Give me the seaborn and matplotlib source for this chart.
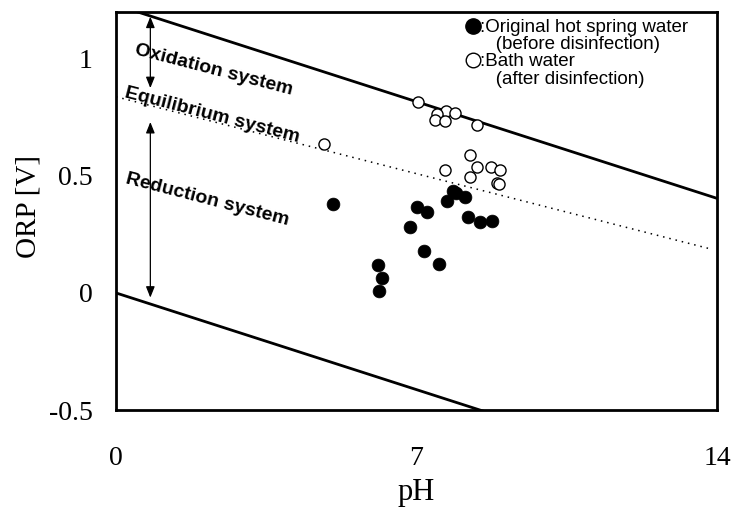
import numpy as np
import pandas as pd
import matplotlib
matplotlib.use("Agg")
import matplotlib.pyplot as plt
from matplotlib.lines import Line2D
import seaborn as sns

# ---- data ----
ph_before = [5.05, 7.02, 7.25, 6.84, 7.72, 7.86, 7.92, 8.14, 8.21, 8.48, 8.77, 7.18, 7.52, 6.11, 6.20, 6.12]
orp_before = [0.379, 0.366, 0.345, 0.282, 0.392, 0.437, 0.426, 0.409, 0.325, 0.303, 0.308, 0.178, 0.124, 0.118, 0.064, 0.010]

ph_after = [7.03, 7.69, 7.47, 7.89, 7.44, 7.66, 8.42, 4.84, 8.25, 7.67, 8.40, 8.73, 8.94, 8.25, 8.88, 8.93]
orp_after = [0.815, 0.779, 0.765, 0.770, 0.739, 0.734, 0.717, 0.637, 0.590, 0.523, 0.540, 0.536, 0.523, 0.497, 0.471, 0.465]

upper_line_ph = [0, 14]
upper_line_orp = [1.23, 0.404]
lower_line_ph = [0, 14]
lower_line_orp = [0.0, -0.826]
mid_line_ph = [0, 13.85]
mid_line_orp = [0.838, 0.188]

legend_labels = [":Original hot spring water", "   (before disinfection)",
                 ":Bath water", "   (after disinfection)"]
region_labels = ["Oxidation system", "Equilibrium system", "Reduction system"]
x_ticklabels = ["0", "7", "14"]
y_ticklabels = ["-0.5", "0", "0.5", "1"]

df = pd.DataFrame({
    "pH": ph_before + ph_after,
    "ORP": orp_before + orp_after,
    "group": ["before"] * len(ph_before) + ["after"] * len(ph_after),
})

sns.set_theme(style="white")
plt.rcParams["font.family"] = ["Liberation Serif", "DejaVu Serif"]
plt.rcParams["text.color"] = "black"
plt.rcParams["axes.labelcolor"] = "black"

fig = plt.figure(figsize=(7.35, 5.08), dpi=100)
ax = fig.add_axes([116 / 735, 1 - 410 / 508, (717 - 116) / 735, (410 - 12) / 508])

# boundary lines
ax.plot(upper_line_ph, upper_line_orp, color="black", lw=2.0)
ax.plot(lower_line_ph, lower_line_orp, color="black", lw=2.0)
ax.plot(mid_line_ph, mid_line_orp, color="black", lw=1.1, linestyle=(0, (1, 3.2)))

# points
sns.scatterplot(data=df[df.group == "before"], x="pH", y="ORP", ax=ax,
                color="black", s=85, edgecolor="black", linewidth=0.5, legend=False, zorder=5)
sns.scatterplot(data=df[df.group == "after"], x="pH", y="ORP", ax=ax,
                facecolor="white", s=64, edgecolor="black", linewidth=1.0, legend=False, zorder=5)

# arrows
ap = dict(arrowstyle="<|-|>,head_length=0.55,head_width=0.22", color="black", lw=0.9,
          shrinkA=0, shrinkB=0)
ax.annotate("", xy=(0.8, 1.18), xytext=(0.8, 0.875), arrowprops=ap)
ax.annotate("", xy=(0.8, 0.73), xytext=(0.8, -0.02), arrowprops=ap)

# region labels
txt_font = dict(family=["Liberation Sans Narrow", "Liberation Sans"], weight="bold",
                fontsize=14, color="black")
ax.text(2.28, 0.953, region_labels[0], rotation=-14.5, ha="center", va="center",
        rotation_mode="anchor", **txt_font)
ax.text(2.25, 0.758, region_labels[1], rotation=-14.5, ha="center", va="center",
        rotation_mode="anchor", **txt_font)
ax.text(2.14, 0.397, region_labels[2], rotation=-14.5, ha="center", va="center",
        rotation_mode="anchor", **txt_font)

# legend
blank = Line2D([], [], linestyle="none", marker=None)
h1 = Line2D([], [], linestyle="none", marker="o", markersize=11,
            markerfacecolor="black", markeredgecolor="black")
h2 = Line2D([], [], linestyle="none", marker="o", markersize=10.5,
            markerfacecolor="white", markeredgecolor="black", markeredgewidth=1.0)
leg = ax.legend([h1, blank, h2, blank], legend_labels, loc="upper left",
                bbox_to_anchor=((465.5 - 116) / 601, (410 - 19) / 398),
                frameon=False, borderpad=0, borderaxespad=0, handlelength=0.8,
                handletextpad=0.0, labelspacing=0.0,
                prop=dict(family=["Liberation Sans", "DejaVu Sans"], size=13.5))
for t in leg.get_texts():
    t.set_color("black")

# axes
ax.set_xlim(0, 14)
ax.set_ylim(-0.5, 1.2)
ax.set_xticks(np.arange(0, 15, 1))
ax.set_xticklabels([x_ticklabels[0]] + [""] * 6 + [x_ticklabels[1]] + [""] * 6 + [x_ticklabels[2]])
yt = np.round(np.arange(-0.5, 1.21, 0.1), 2)
ax.set_yticks(yt)
ax.set_yticklabels([{-0.5: y_ticklabels[0], 0.0: y_ticklabels[1], 0.5: y_ticklabels[2],
                     1.0: y_ticklabels[3]}.get(float(v), "") for v in yt])
ax.tick_params(axis="x", direction="in", length=8, width=1.5, pad=26, labelsize=20, colors="black")
ax.tick_params(axis="y", direction="in", length=8, width=1.5, pad=17, labelsize=20, colors="black")
for sp in ax.spines.values():
    sp.set_visible(True)
    sp.set_color("black")
    sp.set_linewidth(2.0)

ax.set_xlabel("pH", fontsize=22, color="black")
ax.set_ylabel("ORP [V]", fontsize=21, color="black")
ax.xaxis.set_label_coords(0.5, (410 - 478) / 398)
ax.yaxis.set_label_coords((42 - 116) / 601, (410 - 207) / 398)
ax.grid(False)

fig.savefig("out.png", dpi=100, facecolor="white")
